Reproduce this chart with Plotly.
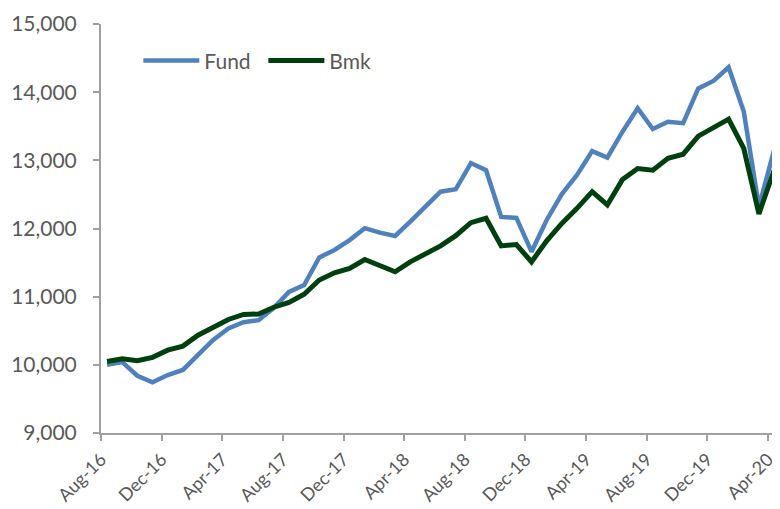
import plotly.graph_objects as go

months = ["Aug-16","Sep-16","Oct-16","Nov-16","Dec-16","Jan-17","Feb-17","Mar-17","Apr-17","May-17","Jun-17","Jul-17",
          "Aug-17","Sep-17","Oct-17","Nov-17","Dec-17","Jan-18","Feb-18","Mar-18","Apr-18","May-18","Jun-18","Jul-18",
          "Aug-18","Sep-18","Oct-18","Nov-18","Dec-18","Jan-19","Feb-19","Mar-19","Apr-19","May-19","Jun-19","Jul-19",
          "Aug-19","Sep-19","Oct-19","Nov-19","Dec-19","Jan-20","Feb-20","Mar-20","Apr-20"]

fund = [10000, 10040, 9840, 9745, 9850, 9925, 10145, 10365, 10535, 10625, 10655, 10835,
        11070, 11170, 11575, 11685, 11830, 12005, 11940, 11890, 12100, 12320, 12540, 12575,
        12960, 12855, 12170, 12155, 11660, 12125, 12505, 12785, 13135, 13040, 13420, 13765,
        13460, 13565, 13545, 14055, 14165, 14365, 13715, 12320, 13150]

bmk = [10050, 10090, 10060, 10110, 10215, 10275, 10435, 10550, 10665, 10740, 10745, 10845,
       10915, 11035, 11245, 11350, 11415, 11545, 11450, 11365, 11510, 11625, 11745, 11895,
       12085, 12150, 11745, 11765, 11510, 11820, 12075, 12295, 12540, 12345, 12720, 12880,
       12855, 13030, 13090, 13355, 13485, 13605, 13175, 12215, 12855]

tick_labels = ["Aug-16","Dec-16","Apr-17","Aug-17","Dec-17","Apr-18","Aug-18","Dec-18","Apr-19","Aug-19","Dec-19","Apr-20"]

x_pos = [i + 0.4 for i in range(len(months))]
tick_pos = [months.index(t) for t in tick_labels]

font_family = "Lato, 'Noto Sans', sans-serif"
txt_color = "#595959"
axis_color = "#A0A0A0"

fig = go.Figure()
fig.add_trace(go.Scatter(x=x_pos, y=fund, mode="lines", name="Fund",
                         line=dict(color="#4F81BD", width=4.5), text=months))
fig.add_trace(go.Scatter(x=x_pos, y=bmk, mode="lines", name="Bmk",
                         line=dict(color="#00400F", width=5), text=months))

fig.update_layout(
    width=772, height=501,
    margin=dict(l=93, r=0, t=16, b=76),
    paper_bgcolor="white", plot_bgcolor="white",
    font=dict(family=font_family, size=21, color=txt_color),
    legend=dict(orientation="h", x=0.055, y=0.91, xanchor="left", yanchor="middle",
                bgcolor="rgba(0,0,0,0)", font=dict(size=21, color=txt_color),
                entrywidth=54, entrywidthmode="pixels", itemwidth=56),
    showlegend=True,
)
fig.update_xaxes(range=[0, 44.79], tickmode="array", tickvals=tick_pos, ticktext=tick_labels,
                 tickangle=-45, showgrid=False, zeroline=False, showline=True, automargin=False,
                 linecolor=axis_color, linewidth=2, ticks="outside", ticklen=6,
                 tickcolor=axis_color, tickwidth=2, ticklabelstandoff=1,
                 tickfont=dict(size=18, color=txt_color))
fig.update_yaxes(range=[9000, 15000], dtick=1000, tickformat=",", showgrid=False, automargin=False,
                 zeroline=False, showline=True, linecolor=axis_color, linewidth=2,
                 ticks="outside", ticklen=6, tickcolor=axis_color, tickwidth=2,
                 ticklabelstandoff=12, tickfont=dict(size=21, color=txt_color))

fig.write_html("out.html")
